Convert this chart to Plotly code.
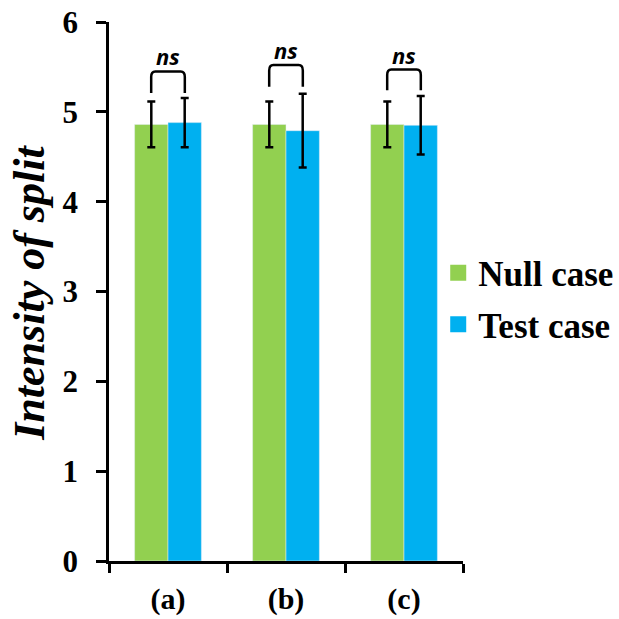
import plotly.graph_objects as go

categories = ["(a)", "(b)", "(c)"]
null_vals = [4.86, 4.86, 4.86]
test_vals = [4.88, 4.79, 4.85]
null_err = [0.255, 0.255, 0.255]
test_err = [0.275, 0.41, 0.325]
bracket_low = [5.21, 5.28, 5.24]
bracket_high = [5.45, 5.52, 5.47]
sig_labels = ["ns", "ns", "ns"]
y_ticks = [0, 1, 2, 3, 4, 5, 6]
series_names = ["Null case", "Test case"]

GREEN = "#92D050"
BLUE = "#00B0F0"
SERIF = "Liberation Serif, Times New Roman, serif"

fig = go.Figure()
fig.add_trace(go.Bar(
    x=categories, y=null_vals, name=series_names[0], marker_color=GREEN,
    showlegend=False,
    error_y=dict(type="data", array=null_err, visible=True, color="black", thickness=2.5, width=4),
))
fig.add_trace(go.Bar(
    x=categories, y=test_vals, name=series_names[1], marker_color=BLUE,
    showlegend=False,
    error_y=dict(type="data", array=test_err, visible=True, color="black", thickness=2.5, width=4),
))
# legend entries (square markers)
for nm, col, grp in zip(series_names, [GREEN, BLUE], ["n", "t"]):
    fig.add_trace(go.Scatter(
        x=[None], y=[None], mode="markers", name=f"<b>{nm}</b>", legendgroup=grp,
        marker=dict(symbol="square", size=17, color=col), showlegend=True,
    ))

off = 0.1425
for i, (lo, hi, lab) in enumerate(zip(bracket_low, bracket_high, sig_labels)):
    x0, x1 = i - off, i + off
    r = 0.035
    ry = 0.06
    path = (f"M {x0},{lo} L {x0},{hi - ry} Q {x0},{hi} {x0 + r},{hi} "
            f"L {x1 - r},{hi} Q {x1},{hi} {x1},{hi - ry} L {x1},{lo}")
    fig.add_shape(type="path", path=path, xref="x", yref="y",
                  line=dict(color="black", width=2.5))
    fig.add_annotation(x=i, y=hi, xref="x", yref="y", text=f"<b><i>{lab}</i></b>",
                       showarrow=False, yanchor="bottom", yshift=-2,
                       font=dict(family="Open Sans, Liberation Sans, sans-serif", size=22, color="black"))

fig.add_annotation(text="<b><i>Intensity of split</i></b>", textangle=-90,
                   xref="paper", yref="paper", x=-0.227, y=0.497,
                   xanchor="center", yanchor="middle", showarrow=False,
                   font=dict(family=SERIF, size=44, color="black"))

fig.update_layout(
    width=619, height=619,
    margin=dict(l=109, r=156, t=22, b=58, autoexpand=False),
    paper_bgcolor="white", plot_bgcolor="white",
    barmode="group", bargap=0.434, bargroupgap=0,
    showlegend=True,
    legend=dict(x=0.93, y=0.487, xanchor="left", yanchor="middle",
                font=dict(family=SERIF, size=35, color="black"),
                tracegroupgap=3, traceorder="grouped",
                itemwidth=30, bgcolor="rgba(0,0,0,0)"),
    font=dict(family=SERIF, color="black"),
)
fig.update_xaxes(
    showline=True, linecolor="black", linewidth=2.5,
    ticks="outside", tickson="boundaries", ticklen=9, tickwidth=2.5, tickcolor="black",
    tickfont=dict(family=SERIF, size=30, color="black"),
    tickvals=categories, ticktext=[f"<b>{c}</b>" for c in categories],
    ticklabelstandoff=9,
    range=[-0.5, 2.5],
)
fig.update_yaxes(
    range=[0, 6], tickvals=y_ticks, ticktext=[f"<b>{t}</b>" for t in y_ticks],
    showline=True, linecolor="black", linewidth=2.5,
    ticks="outside", ticklen=10, tickwidth=2.5, tickcolor="black",
    tickfont=dict(family=SERIF, size=31, color="black"),
    ticklabelstandoff=12,
    showgrid=False, zeroline=False,
)

fig.write_html("out.html")
